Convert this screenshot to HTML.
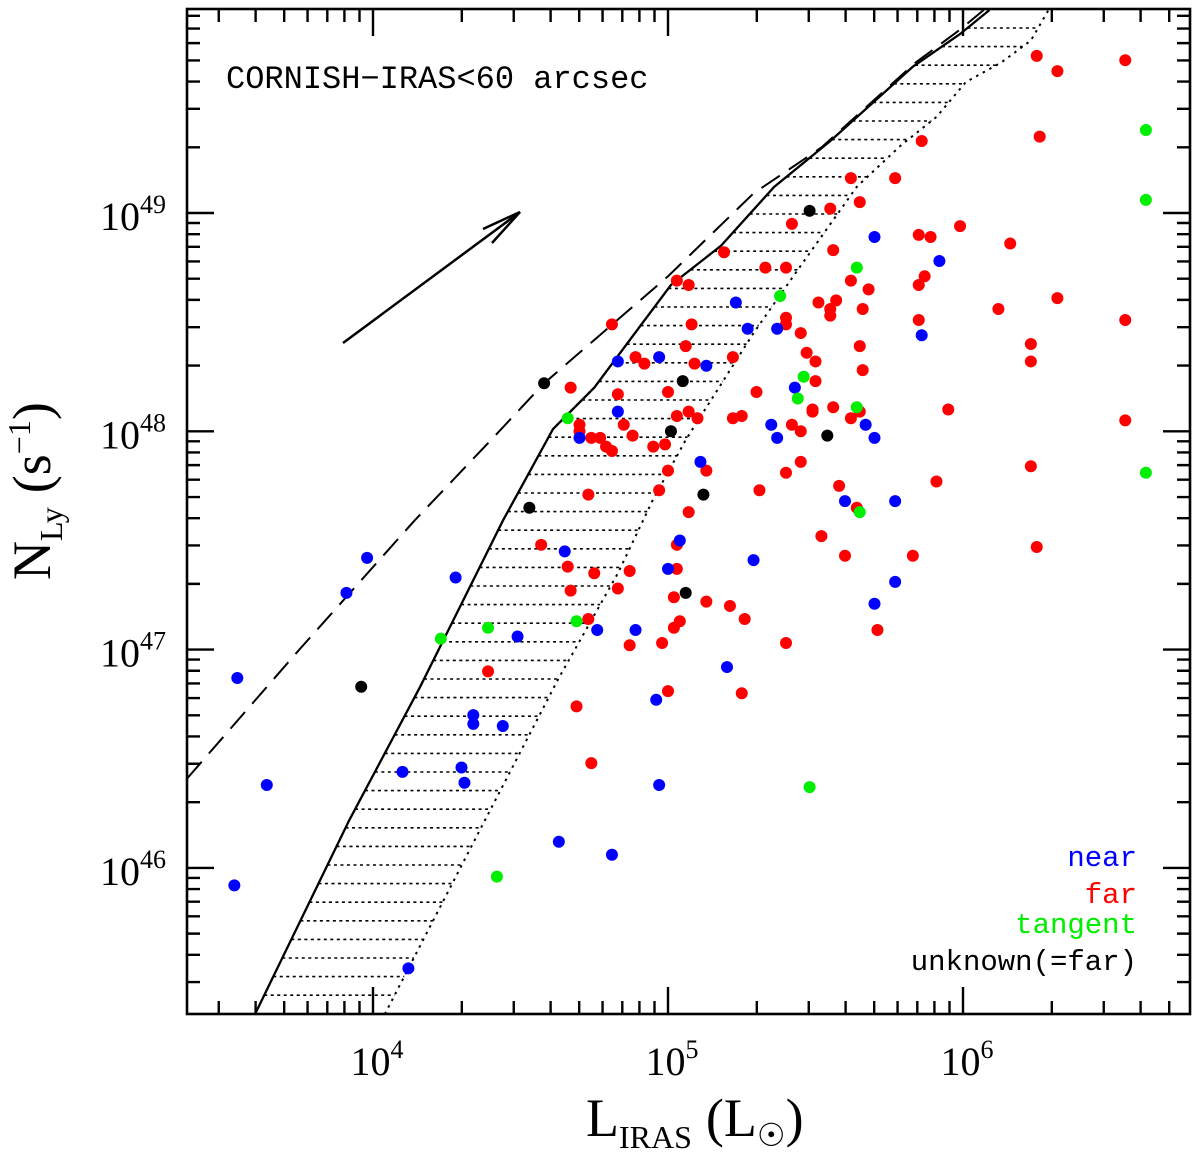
<!DOCTYPE html>
<html><head><meta charset="utf-8"><style>
html,body{margin:0;padding:0;background:#fff;}
svg{display:block;}
</style></head><body>
<svg id="chart" width="1200" height="1156" viewBox="0 0 1200 1156" xmlns="http://www.w3.org/2000/svg">
<defs><clipPath id="plotclip"><rect x="187" y="9" width="1003" height="1005"/></clipPath></defs>
<g id="curves" clip-path="url(#plotclip)"></g>
<g id="points"></g>
<g id="axes"></g>
<g stroke="#000" stroke-width="2.5" fill="none">
<line x1="343" y1="343" x2="520" y2="212"/>
<polyline points="483,229 520,212 492,243"/>
</g>
<text x="226" y="88" font-family="Liberation Mono, monospace" font-size="32" fill="#000">CORNISH−IRAS&lt;60 arcsec</text>
<g font-family="Liberation Mono, monospace" font-size="29" text-anchor="end">
<text x="1137" y="866" fill="#0000ff">near</text>
<text x="1137" y="903" fill="#ff0000">far</text>
<text x="1137" y="933" fill="#00ee00">tangent</text>
<text x="1137" y="970" fill="#000">unknown(=far)</text>
</g>
<text x="586" y="1136" font-family="Liberation Serif, serif" font-size="54" fill="#000">L<tspan font-size="32" dy="12">IRAS</tspan><tspan dy="-12" dx="14">(L</tspan><tspan font-size="32" dy="10">☉</tspan><tspan dy="-10">)</tspan></text>
<text transform="translate(50,580) rotate(-90)" font-family="Liberation Serif, serif" font-size="54" fill="#000">N<tspan font-size="32" dy="12">Ly</tspan><tspan dy="-12" dx="14">(s</tspan><tspan font-size="32" dy="-20">−1</tspan><tspan dy="20">)</tspan></text>
</svg>
<script>
// ---- data (log10 values) ----
const nearL=[3.54,3.64,3.53,3.91,3.98,4.28,4.34,4.34,4.44,4.30,4.31,4.10,4.49,4.12,4.63,4.81,4.65,4.70,4.83,4.97,4.83,4.76,4.89,5.00,5.04,5.11,5.13,4.96,4.97,5.20,5.23,5.27,5.37,5.37,5.35,5.43,5.67,5.70,5.29,5.70,5.60,5.92,5.86,5.77,5.77,5.70];
const nearN=[46.87,46.38,45.92,47.26,47.42,47.33,46.70,46.66,46.65,46.46,46.39,46.44,47.06,45.54,46.12,46.06,47.45,47.97,48.32,48.34,48.09,47.09,47.09,47.37,47.50,47.86,48.30,46.77,46.38,46.92,48.59,48.47,48.47,47.97,48.03,48.20,48.03,47.97,47.41,48.89,47.68,48.78,48.44,47.68,47.31,47.21];
const farL=[6.25,6.55,6.32,6.26,5.86,5.62,5.77,5.65,5.55,5.42,5.99,5.85,5.89,6.16,5.56,5.19,5.33,5.40,5.62,5.68,5.87,5.85,6.32,5.51,5.57,5.55,5.55,5.66,6.12,5.40,5.40,5.85,6.55,5.45,5.65,6.23,6.23,5.47,5.50,5.66,5.50,5.95,6.55,5.49,5.49,5.56,5.62,5.65,5.42,5.45,5.45,5.40,6.23,5.91,5.58,5.64,5.52,5.60,5.83,6.25,5.71,5.40,5.03,5.07,4.81,5.08,5.06,4.89,4.92,5.09,5.22,4.67,4.83,5.00,5.30,5.03,5.07,5.10,5.22,5.25,4.70,4.70,4.74,4.77,4.85,4.88,4.79,4.81,4.95,4.99,5.00,5.13,4.97,5.31,4.73,5.07,4.57,5.03,4.66,4.75,4.87,5.03,4.67,4.83,5.02,5.13,5.21,5.26,4.73,5.04,5.02,4.87,4.98,4.39,5.00,5.25,4.69,4.74];
const farN=[49.72,49.70,49.65,49.35,49.33,49.16,49.16,49.05,49.02,48.95,48.94,48.90,48.89,48.86,48.83,48.82,48.75,48.75,48.69,48.65,48.71,48.67,48.61,48.59,48.60,48.56,48.53,48.56,48.56,48.52,48.49,48.51,48.51,48.45,48.39,48.40,48.32,48.36,48.32,48.28,48.23,48.10,48.05,48.10,48.09,48.11,48.06,48.09,48.03,48.00,47.86,47.81,47.84,47.77,47.75,47.65,47.52,47.43,47.43,47.47,47.09,47.03,48.69,48.67,48.49,48.49,48.39,48.34,48.31,48.31,48.34,48.20,48.17,48.18,48.18,48.07,48.09,48.06,48.06,48.07,48.03,48.00,47.97,47.97,48.03,47.98,47.93,47.91,47.93,47.94,47.82,47.82,47.73,47.73,47.71,47.63,47.48,47.48,47.38,47.35,47.36,47.37,47.27,47.28,47.24,47.22,47.20,47.14,47.14,47.13,47.10,47.02,47.03,46.90,46.81,46.80,46.74,46.48];
const tangentL=[6.62,6.62,6.62,5.64,5.38,5.46,5.44,5.64,5.65,4.66,4.69,4.23,4.39,5.48,4.42];
const tangentN=[49.38,49.06,47.81,48.75,48.62,48.25,48.15,48.11,47.63,48.06,47.13,47.05,47.10,46.37,45.96];
const unknownL=[5.48,4.58,5.05,5.01,5.54,5.12,4.53,5.06,3.96];
const unknownN=[49.01,48.22,48.23,48.00,47.98,47.71,47.65,47.26,46.83];
const solidL=[3.60,3.92,4.16,4.44,4.61,4.75,4.91,5.01,5.18,5.36,5.55,5.83,5.99,6.09];
const solidN=[45.33,46.22,46.83,47.59,48.01,48.20,48.49,48.67,48.85,49.12,49.33,49.67,49.82,49.93];
const dashedL=[3.37,3.75,4.14,4.40,4.58,5.00,5.29,5.52,5.84,5.99,6.07];
const dashedN=[46.41,47.00,47.59,47.96,48.22,48.71,49.09,49.30,49.69,49.84,49.93];
const dottedL=[4.04,4.38,4.63,4.83,4.95,5.06,5.29,5.44,5.64,5.79,5.91,6.01,6.13,6.23,6.29];
const dottedN=[45.33,46.22,46.87,47.35,47.69,47.96,48.45,48.74,49.12,49.31,49.44,49.60,49.69,49.79,49.93];
const xTickExp=[4,5,6];
const yTickExp=[46,47,48,49];

// ---- scales ----
const X0=187,X1=1190,Y0=9,Y1=1014;
const xS=l=>373+(l-4)*295;
const yS=n=>213-(n-49)*218.3;
const lxMin=4+(X0-373)/295, lxMax=4+(X1-373)/295;
const lyMin=49-(Y1-213)/218.3, lyMax=49+(213-Y0)/218.3;
const NS='http://www.w3.org/2000/svg';
function mk(tag,attrs,parent){const e=document.createElementNS(NS,tag);for(const k in attrs)e.setAttribute(k,attrs[k]);parent.appendChild(e);return e;}

// ---- curves ----
const cg=document.getElementById('curves');
function pathOf(L,N){return L.map((l,i)=>(i?'L':'M')+xS(l).toFixed(1)+','+yS(N[i]).toFixed(1)).join(' ');}
function xAtY(L,N,y){for(let i=0;i<L.length-1;i++){const ya=yS(N[i]),yb=yS(N[i+1]);if((y<=ya&&y>=yb)||(y>=ya&&y<=yb)){const t=(y-ya)/(yb-ya);return xS(L[i])+t*(xS(L[i+1])-xS(L[i]));}}return null;}
for(let y=28;y<Y1;y+=18.6){
  const xa=xAtY(solidL,solidN,y), xb=xAtY(dottedL,dottedN,y);
  if(xa!==null&&xb!==null){
    const h=mk('line',{x1:xa,y1:y,x2:xb,y2:y,stroke:'#000','stroke-width':1.6,'stroke-dasharray':'3,3.5'},cg);
    
    
  }
}
const ps=mk('path',{d:pathOf(solidL,solidN),stroke:'#000','stroke-width':2.3,fill:'none'},cg);


const pd=mk('path',{d:pathOf(dashedL,dashedN),stroke:'#000','stroke-width':2,fill:'none','stroke-dasharray':'22,11'},cg);


const pt=mk('path',{d:pathOf(dottedL,dottedN),stroke:'#000','stroke-width':2,fill:'none','stroke-dasharray':'2.5,5'},cg);



// ---- points ----
const pg=document.getElementById('points');
function drawSeries(L,N,color,name){
  for(let i=0;i<L.length;i++){
    const c=mk('circle',{cx:xS(L[i]),cy:yS(N[i]),r:6,fill:color},pg);
    
    
  }
}
drawSeries(farL,farN,'#ff0000','point-far');
drawSeries(nearL,nearN,'#0000ff','point-near');
drawSeries(tangentL,tangentN,'#00ee00','point-tangent');
drawSeries(unknownL,unknownN,'#000000','point-unknown');

// ---- axes ----
const ag=document.getElementById('axes');
const fr=mk('rect',{x:X0,y:Y0,width:X1-X0,height:Y1-Y0,fill:'none',stroke:'#000','stroke-width':2.6},ag);


let tk='';
for(let d=3;d<=6;d++){for(let m=1;m<=9;m++){const l=d+Math.log10(m);if(l<lxMin||l>lxMax)continue;const x=xS(l),len=m===1?27:13;tk+=`M${x},${Y1}v${-len}M${x},${Y0}v${len}`;}}
for(let d=45;d<=49;d++){for(let m=1;m<=9;m++){const l=d+Math.log10(m);if(l<lyMin||l>lyMax)continue;const y=yS(l),len=m===1?27:13;tk+=`M${X0},${y}h${len}M${X1},${y}h${-len}`;}}
const tp=mk('path',{d:tk,stroke:'#000','stroke-width':2.4,fill:'none'},ag);


xTickExp.forEach(e=>{
  const t=mk('text',{x:xS(e)+4,y:1075,'font-family':'Liberation Serif, serif','font-size':40,'text-anchor':'middle'},ag);
  
  
  t.innerHTML='10<tspan font-size="26" dy="-17">'+e+'</tspan>';
});
yTickExp.forEach(e=>{
  const t=mk('text',{x:166,y:yS(e)+17,'font-family':'Liberation Serif, serif','font-size':40,'text-anchor':'end'},ag);
  
  
  t.innerHTML='10<tspan font-size="26" dy="-17">'+e+'</tspan>';
});
</script>
</body></html>
